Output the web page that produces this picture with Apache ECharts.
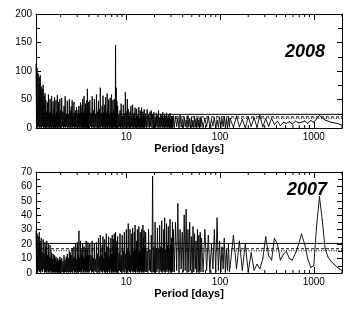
<!DOCTYPE html>
<html>
<head>
<meta charset="utf-8">
<script src="https://cdn.jsdelivr.net/npm/echarts@6/dist/echarts.min.js"></script>
<style>html,body{margin:0;padding:0;background:#fff}#c{width:359px;height:313px}</style>
</head>
<body>
<div id="c"></div>
<script>
// Shared period grid [days]
const periods = [
  1.090,1.105,1.120,1.135,1.150,1.165,1.180,1.195,1.210,1.225,
  1.240,1.255,1.270,1.285,1.300,1.315,1.330,1.345,1.360,1.375,
  1.390,1.405,1.420,1.435,1.450,1.465,1.480,1.495,1.510,1.525,
  1.540,1.555,1.570,1.585,1.600,1.615,1.630,1.645,1.660,1.675,
  1.690,1.705,1.720,1.735,1.750,1.765,1.780,1.795,1.810,1.825,
  1.840,1.855,1.870,1.885,1.900,1.915,1.930,1.945,1.960,1.975,
  1.990,
  2.02,2.05,2.08,2.11,2.14,2.17,2.20,2.23,2.26,2.29,
  2.32,2.35,2.38,2.41,2.44,2.47,2.50,2.53,2.56,2.59,
  2.62,2.65,2.68,2.71,2.74,2.77,2.80,2.83,2.86,2.89,
  2.92,2.95,2.98,3.01,3.04,3.07,3.10,3.13,3.16,3.19,
  3.22,3.25,3.28,3.31,3.34,3.37,3.40,3.43,3.46,3.49,
  3.52,3.55,3.58,3.61,3.64,3.67,3.70,3.73,3.76,3.79,
  3.82,3.85,3.88,3.91,3.94,3.97,
  4.03,4.09,4.15,4.21,4.27,4.33,4.39,4.45,4.51,4.57,
  4.63,4.69,4.75,4.81,4.87,4.93,4.99,5.05,5.11,5.17,
  5.23,5.29,5.35,5.41,5.47,5.53,5.59,5.65,5.71,5.77,
  5.83,5.89,5.95,6.01,6.07,6.13,6.19,6.25,6.31,6.37,
  6.43,6.49,6.55,6.61,6.67,6.73,6.79,6.85,6.91,6.97,
  7.03,7.09,7.15,7.21,7.27,7.33,7.39,7.45,7.51,7.57,
  7.63,7.69,7.75,7.81,7.87,7.93,7.99,
  8.10,8.22,8.34,8.46,8.58,8.70,8.82,8.94,9.06,9.18,
  9.30,9.42,9.54,9.66,9.78,9.90,10.02,10.14,10.26,10.38,
  10.50,10.62,10.74,10.86,10.98,11.10,11.22,11.34,11.46,11.58,
  11.70,11.82,11.94,12.06,12.18,12.30,12.42,12.54,12.66,12.78,
  12.90,13.02,13.14,13.26,13.38,13.50,13.62,13.74,13.86,13.98,
  14.10,14.22,14.34,14.46,14.58,14.70,14.82,14.94,15.06,15.18,
  15.30,15.42,15.54,15.66,15.78,15.90,
  16.1,16.4,16.7,17.0,17.3,17.6,17.9,18.2,18.5,18.8,
  19.1,19.4,19.7,20.0,20.3,20.6,20.9,21.2,21.5,21.8,
  22.1,22.4,22.7,23.0,23.3,23.6,23.9,24.2,24.5,24.8,
  25.1,25.4,25.7,26.0,26.3,26.6,26.9,27.2,27.5,27.8,
  28.1,28.4,28.7,29.0,29.3,29.6,29.9,30.2,30.5,30.8,
  31.1,31.4,31.7,
  32.5,33.5,34.5,35.5,36.5,37.5,38.5,39.5,40.5,41.5,
  42.5,43.5,44.5,45.5,46.5,47.5,48.5,49.5,50.5,51.5,
  52.5,53.5,54.5,55.5,56.5,57.5,58.5,59.5,60.5,61.5,
  62.5,63.5,
  66,69,72,75,78,81,84,87,90,93,96,99,102,105,108,111,114,117,120,123,126,
  128,139,150,161,173,186,200,215,231,248,266,286,307,
  330,355,380,410,440,475,510,550,590,640,690,740,800,860,930,1000,
  1070,1150,1230,1320,1420,1530,1650,1780,1920,2000
];
const power2008 = [
  112,2,104,1,95,3,88,0.5,92,2, 72,1,68,3,75,0.5,55,2,60,1,
  48,0.5,30,3,44,1,58,2,26,0.5, 50,2,28,1,55,0.5,24,3,46,1,
  32,2,53,0.5,22,1,48,3,27,1, 57,0.5,25,2,45,1,20,3,50,0.5, 30,
  1,52,3,28,0.5,38,2,55,1,24, 3,47,0.5,22,2,50,1,30,0.5,37,
  2,48,1,20,3,45,0.5,26,2,30, 1,36,3,22,0.5,31,2,38,1,25,
  3,44,0.5,28,2,40,1,50,0.5,26, 2,55,1,30,0.5,42,3,25,1,48, 2,68,0.5,30,1,45,
  1,48,3,26,0.5,55,2,30,1,50, 0.5,24,3,58,1,28,2,47,0.5,32,
  2,70,1,25,3,38,0.5,56,2,27, 1,40,3,53,0.5,26,2,60,1,30,
  3,49,1,22,0.5,52,2,28,1,58, 3,25,0.5,48,2,30,1,50,3,24, 0.5,145,1,70,2,47,0.5,
  38,1,22,2,30,0.5,42,3,20,1, 40,0.5,25,2,62,1,28,3,50,0.5,
  33,2,20,1,28,0.5,38,3,18,1, 40,2,22,0.5,26,3,35,1,16,0.5,
  33,2,20,1,24,3,36,0.5,15,2, 30,1,18,3,35,0.5,14,2,28,0.5, 24,3,32,1,17,2,
  25,1,32,2,22,0.5,28,3,30,1, 24,0.5,27,2,19,1,26,3,22,0.5,
  30,2,18,0.5,24,3,21,1,27,2, 17,0.5,23,2,20,1,26,3,16,0.5,
  22,2,19,0.5,25,1,15,3,20,0.5, 18,2,21,
  1,20,3,17,0.5,22,2,15,1,19, 3,14,0.5,21,2,16,0.5,18,3,13,
  1,20,2,15,0.5,17,3,14,1,19, 2,16,
  1,17,3,20,0.5,15,4,18,0.5,14,2,19,1,16,3,20,1,15,0.5,18,2,
  17,1,21,2,15,0.5,19,3,18,1,22,2,16,
  3,17,6,12,4,10,8,11,7,12,9,10,12,8,13,10,
  16,22,18,14,12,10,9,8,6,5
];
const power2007 = [
  29,1,27,0.5,25,2,28,1,22,0.5, 24,2,14,1,23,3,13,0.5,21,1,
  18,0.5,22,2,12,0.5,20,1,11,0.5, 19,2,10,0.5,14,1,9,0.5,13,1,
  10,0.5,12,1,9,0.5,11,1,8,0.5, 10,0.5,7,0.5,9,1,8,0.5,11,0.5, 9,
  0.5,10,1,8,0.5,12,0.5,9,1,11, 0.5,13,1,10,0.5,15,1,14,0.5,12,
  1,17,0.5,10,2,18,0.5,11,1,20, 0.5,9,2,21,1,12,0.5,29,1,10,
  2,22,0.5,12,1,16,3,20,0.5,11, 1,18,2,10,0.5,17,1,22,2,12, 0.5,16,1,21,2,12,
  1,20,2,12,0.5,22,1,10,0.5,20, 2,9,1,21,0.5,13,3,24,1,11,
  0.5,26,2,12,1,19,0.5,25,2,10, 1,23,0.5,14,2,27,1,12,0.5,18,
  2,25,1,11,0.5,17,3,24,1,13, 0.5,26,2,12,1,23,0.5,27,2,14, 1,28,0.5,15,2,22,1,
  25,0.5,14,2,27,1,12,0.5,26,2, 15,1,28,0.5,13,3,30,1,16,0.5,
  34,2,14,1,30,0.5,12,2,27,1, 31,0.5,15,2,28,1,33,0.5,16,3,
  22,1,30,0.5,14,2,32,1,15,0.5, 28,2,13,1,30,0.5,16,2,33,1, 24,0.5,29,2,17,1,
  28,1,15,0.5,30,2,16,1,26,0.5, 67,1,18,2,35,0.5,17,1,31,3,
  16,0.5,33,2,18,1,36,0.5,17,2, 30,1,38,0.5,16,2,34,1,19,3,
  32,0.5,17,2,37,1,19,0.5,24,2, 35,1,30,
  1,35,2,48,0.5,30,3,28,1,40, 2,44,0.5,30,1,35,2,25,0.5,32,
  1,27,3,22,0.5,30,1,26,2,28, 1,24,
  1,30,2,26,0.5,20,3,30,1,38,2,22,1,18,3,24,0.5,16,2,20,1,
  4,26,3,22,2,20,1,14,2,6,3,10,25,
  12,9,24,20,9,13,15,10,9,14,20,27,20,10,4,5,
  32,53,37,17,11,8,6,4,2.5,2
];
// significance levels: solid, dashed, dotted
const levels2008 = [24, 19.5, 17];
const levels2007 = [20.5, 16.8, 15.4];
const xTickLabels = [10, 100, 1000];
const minorTickPeriods = [2,3,4,5,6,7,8,9,20,30,40,50,60,70,80,90,200,300,400,500,600,700,800,900,2000];
const panelLabels = ['2008', '2007'];

const FONT = 'Liberation Sans, Arial, Helvetica, sans-serif';
const X_MIN = 1.09, X_MAX = 2000;

function xAxes(gridIndex) {
  const common = {
    type: 'log', logBase: 10, min: X_MIN, max: X_MAX, gridIndex,
    axisLine: { show: true, onZero: false, lineStyle: { color: '#000', width: 1 } },
    axisTick: { show: true, inside: true, length: 6, lineStyle: { color: '#000', width: 1 } },
    splitLine: { show: false }
  };
  return [
    Object.assign({}, common, {
      position: 'bottom',
      name: 'Period [days]', nameLocation: 'middle', nameGap: 15,
      nameTextStyle: { fontFamily: FONT, fontWeight: 'bold', fontSize: 11, color: '#000' },
      axisLabel: {
        fontFamily: FONT, fontSize: 10, color: '#000', margin: 4,
        showMinLabel: false, showMaxLabel: false,
        formatter: v => xTickLabels.some(t => Math.abs(t - v) / t < 1e-6) ? String(Math.round(v)) : ''
      }
    }),
    Object.assign({}, common, { position: 'top', axisLabel: { show: false } })
  ];
}
function yAxes(gridIndex, max, interval) {
  const common = {
    type: 'value', min: 0, max, interval, gridIndex,
    axisLine: { show: true, onZero: false, lineStyle: { color: '#000', width: 1 } },
    axisTick: { show: true, inside: true, length: 5, lineStyle: { color: '#000', width: 1 } },
    minorTick: { show: true, splitNumber: 2, length: 4, lineStyle: { color: '#000', width: 1 } },
    splitLine: { show: false }
  };
  return [
    Object.assign({}, common, { position: 'left',
      axisLabel: { fontFamily: FONT, fontSize: 10, color: '#000', margin: 4 } }),
    Object.assign({}, common, { position: 'right', axisLabel: { show: false } })
  ];
}
// periodogram drawn segment by segment so overlapping strokes accumulate
function periodogram(idx, power) {
  const segs = [];
  for (let i = 0; i < periods.length - 1; i++) {
    segs.push([periods[i], power[i], periods[i + 1], power[i + 1]]);
  }
  return {
    type: 'custom', xAxisIndex: idx * 2, yAxisIndex: idx * 2, silent: true, animation: false,
    dimensions: ['p0', 'v0', 'p1', 'v1'],
    encode: { x: [0, 2], y: [1, 3] },
    data: segs,
    renderItem: (params, api) => {
      const a = api.coord([api.value(0), api.value(1)]);
      const b = api.coord([api.value(2), api.value(3)]);
      return { type: 'line', shape: { x1: a[0], y1: a[1], x2: b[0], y2: b[1] },
        style: { stroke: '#000', lineWidth: 0.9, lineCap: 'round' } };
    }
  };
}
function levelLine(idx, value, type) {
  return {
    type: 'line', xAxisIndex: idx * 2, yAxisIndex: idx * 2, silent: true, animation: false,
    data: [[X_MIN, value], [X_MAX, value]], showSymbol: false, symbol: 'none', z: 3,
    lineStyle: { color: '#000', width: 1, type }
  };
}
function minorTicks(idx) {
  return {
    type: 'custom', xAxisIndex: idx * 2, yAxisIndex: idx * 2, silent: true, animation: false, z: 5,
    data: minorTickPeriods.map(p => [p, 0]),
    renderItem: (params, api) => {
      const cs = params.coordSys;
      const x = api.coord([api.value(0), 0])[0];
      const top = cs.y, bot = cs.y + cs.height;
      return {
        type: 'group', children: [
          { type: 'line', shape: { x1: x, y1: top, x2: x, y2: top + 3 }, style: { stroke: '#000', lineWidth: 1 } },
          { type: 'line', shape: { x1: x, y1: bot, x2: x, y2: bot - 3 }, style: { stroke: '#000', lineWidth: 1 } }
        ]
      };
    }
  };
}

const chart = echarts.init(document.getElementById('c'), null, { renderer: 'canvas' });
chart.setOption({
  animation: false,
  backgroundColor: '#fff',
  grid: [
    { left: 36, right: 17, top: 14, height: 114 },
    { left: 36, right: 17, top: 172, height: 101 }
  ],
  xAxis: [...xAxes(0), ...xAxes(1)],
  yAxis: [...yAxes(0, 200, 50), ...yAxes(1, 70, 10)],
  series: [
    periodogram(0, power2008),
    periodogram(1, power2007),
    levelLine(0, levels2008[0], 'solid'), levelLine(0, levels2008[1], [3, 2]), levelLine(0, levels2008[2], [1, 1.5]),
    levelLine(1, levels2007[0], 'solid'), levelLine(1, levels2007[1], [3, 2]), levelLine(1, levels2007[2], [1, 1.5]),
    minorTicks(0), minorTicks(1)
  ],
  graphic: [
    { type: 'text', x: 305, y: 52, style: { text: panelLabels[0], fontFamily: FONT, fontSize: 18, fontWeight: 'bold', fontStyle: 'italic', fill: '#000', align: 'center', verticalAlign: 'middle' } },
    { type: 'text', x: 307, y: 190, style: { text: panelLabels[1], fontFamily: FONT, fontSize: 18, fontWeight: 'bold', fontStyle: 'italic', fill: '#000', align: 'center', verticalAlign: 'middle' } }
  ]
});
</script>
</body>
</html>
